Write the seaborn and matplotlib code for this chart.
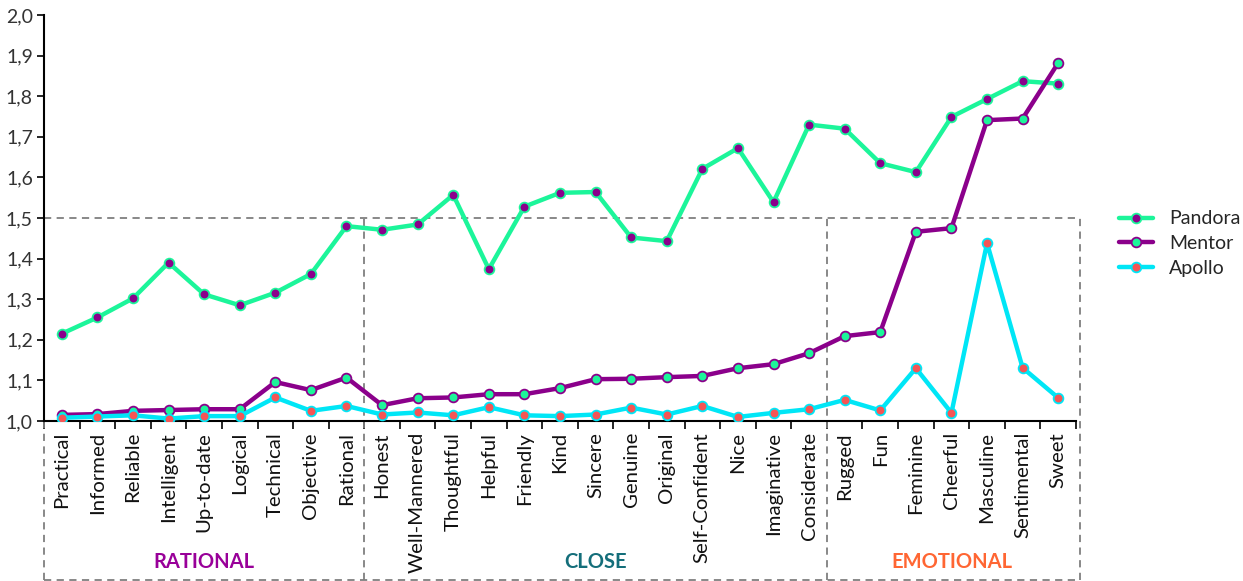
import matplotlib
matplotlib.use('Agg')
import matplotlib.pyplot as plt
import seaborn as sns
import pandas as pd
import numpy as np
from matplotlib.ticker import FuncFormatter, FixedLocator

# categories (x axis)
traits = ['Practical', 'Informed', 'Reliable', 'Intelligent', 'Up-to-date', 'Logical',
          'Technical', 'Objective', 'Rational',
          'Honest', 'Well-Mannered', 'Thoughtful', 'Helpful', 'Friendly', 'Kind', 'Sincere',
          'Genuine', 'Original', 'Self-Confident', 'Nice', 'Imaginative', 'Considerate',
          'Rugged', 'Fun', 'Feminine', 'Cheerful', 'Masculine', 'Sentimental', 'Sweet']

pandora = [1.215, 1.255, 1.302, 1.390, 1.312, 1.285, 1.316, 1.362, 1.480,
           1.471, 1.484, 1.557, 1.374, 1.528, 1.562, 1.564, 1.452, 1.443, 1.621,
           1.672, 1.539, 1.730,
           1.720, 1.635, 1.613, 1.749, 1.793, 1.837, 1.831]
mentor = [1.015, 1.017, 1.025, 1.027, 1.029, 1.029, 1.096, 1.076, 1.107,
          1.039, 1.056, 1.058, 1.066, 1.066, 1.081, 1.103, 1.104, 1.108, 1.111,
          1.130, 1.140, 1.167,
          1.209, 1.219, 1.466, 1.475, 1.741, 1.745, 1.882]
apollo = [1.008, 1.011, 1.014, 1.006, 1.012, 1.012, 1.058, 1.025, 1.037,
          1.016, 1.021, 1.014, 1.034, 1.014, 1.012, 1.016, 1.033, 1.016, 1.037,
          1.010, 1.020, 1.029,
          1.052, 1.026, 1.130, 1.020, 1.438, 1.131, 1.057]

# groups: name, first index, last index, colour
groups = [('RATIONAL', 0, 8, '#990099'),
          ('CLOSE', 9, 21, '#146E7A'),
          ('EMOTIONAL', 22, 28, '#FF6633')]

GREEN = '#1CF59A'
PURPLE = '#8B008B'
CYAN = '#00E6F6'
RED = '#F55555'

sns.set_style('white')
plt.rcParams['font.family'] = ['Lato', 'DejaVu Sans']

fig = plt.figure(figsize=(12.43, 5.81), dpi=100)
ax = fig.add_axes([44 / 1243, 1 - 421 / 581, (1076 - 44) / 1243, (421 - 15) / 581])

df = pd.DataFrame({'trait': traits, 'Pandora': pandora, 'Mentor': mentor, 'Apollo': apollo})

series = [('Pandora', GREEN, PURPLE), ('Mentor', PURPLE, GREEN), ('Apollo', CYAN, RED)]
for name, lc, mc in series:
    sns.lineplot(data=df, x='trait', y=name, sort=False, ax=ax, color=lc, lw=3.2,
                 marker='o', markersize=7, markerfacecolor=mc, markeredgecolor=lc,
                 markeredgewidth=1.3, label=name, zorder=3)

ax.set_xlim(-0.5, len(traits) - 0.5)
ax.set_ylim(1.0, 2.0)
ax.set_yticks(np.arange(1.0, 2.01, 0.1))
ax.yaxis.set_major_formatter(FuncFormatter(lambda v, p: f'{v:.1f}'.replace('.', ',')))
ax.set_xticks(range(len(traits)))
ax.set_xticklabels(traits, rotation=90)
ax.xaxis.set_minor_locator(FixedLocator(np.arange(-0.5, len(traits), 1.0)))
ax.tick_params(axis='x', which='major', length=0, pad=8, labelsize=14.7, labelcolor='#111111')
ax.tick_params(axis='x', which='minor', length=6, width=1.2, direction='out', color='black', bottom=True)
ax.tick_params(axis='y', which='major', length=5, width=1.2, direction='out', color='black',
               left=True, labelsize=14, labelcolor='#333333', pad=3)
ax.set_xlabel('')
ax.set_ylabel('')
for s in ['top', 'right']:
    ax.spines[s].set_visible(False)
for s in ['left', 'bottom']:
    ax.spines[s].set_color('black')
    ax.spines[s].set_linewidth(1.5)

# dashed group boxes, extending down into label area
ybot = 1 - (580 - 421) / 406
dash = dict(color='#7F7F7F', lw=1.3, ls=(0, (4, 3)), clip_on=False, zorder=1)
x0, x1 = -0.5, len(traits) - 0.5 + 0.1
ax.plot([x0, x1], [1.5, 1.5], **dash)
ax.plot([x0, x1], [ybot, ybot], **dash)
ax.plot([x0, x0], [ybot, 1.5], **dash)
ax.plot([x1, x1], [ybot, 1.5], **dash)
for name, a, b, col in groups[1:]:
    ax.plot([a - 0.5, a - 0.5], [ybot, 1.5], **dash)
for name, a, b, col in groups:
    ax.text((a + b) / 2, 1 - (562 - 421) / 406, name, ha='center', va='center',
            fontsize=14.5, fontweight='bold', color=col, clip_on=False)

leg = ax.legend(loc='upper left', bbox_to_anchor=(1101 / 1243, 1 - 193 / 581),
                bbox_transform=fig.transFigure, frameon=False, fontsize=14,
                handlelength=1.75, handletextpad=0.85, labelspacing=0.4)

fig.savefig('out.png', dpi=100)
